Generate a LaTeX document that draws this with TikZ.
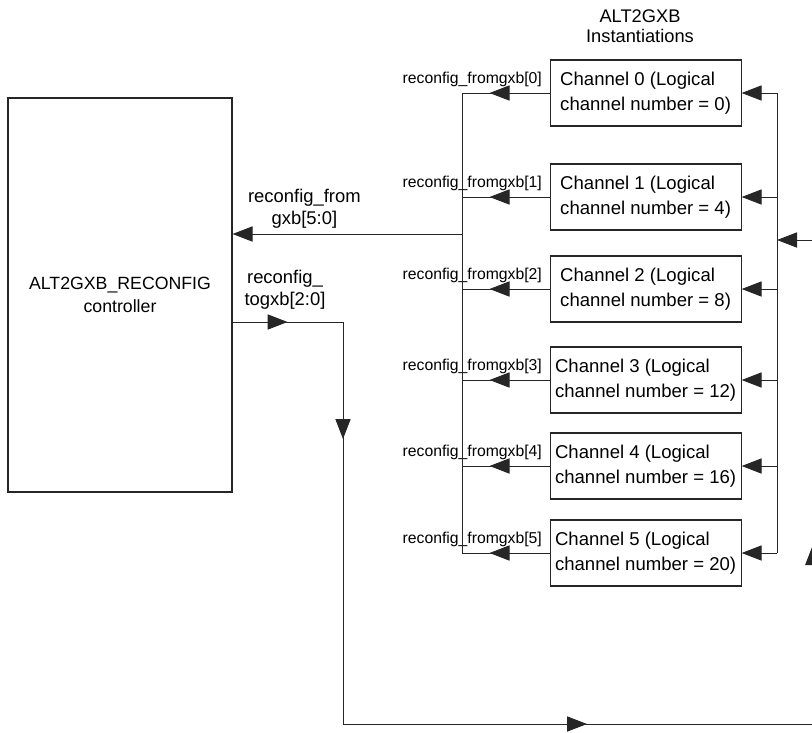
\documentclass[tikz,border=0pt]{standalone}
\usepackage{fontspec}
\setmainfont{Liberation Sans}
\usetikzlibrary{arrows.meta,positioning,calc,decorations.markings}

\begin{document}
\begin{tikzpicture}[>={Triangle[length=0.5cm,width=0.38cm]},line width=0.7pt,draw=black!85]
\tikzstyle{b}=[draw,line width=0.8pt,inner sep=2pt]
\tikzstyle{chbox}=[b,minimum width=4.775cm,minimum height=1.65cm,align=left,font=\fontsize{13.2}{17.6}\selectfont]
\tikzstyle{lbl}=[inner sep=0pt,font=\fontsize{11.2}{13}\selectfont]
\tikzstyle{midarr}=[postaction={decorate},decoration={markings,mark=at position #1 with {\arrow{>}}}]
\useasboundingbox (0,0) rectangle (20.3,-18.3);
\clip (0,0) rectangle (20.3,-18.3);
% controller and the six instantiations
\node[b,minimum width=5.6cm,minimum height=9.85cm,align=center,font=\fontsize{12.6}{16.4}\selectfont] (ctrl) at (3.0,-7.375) {ALT2GXB\_RECONFIG\\ controller};
\node[align=center,font=\fontsize{13}{14.4}\selectfont] (title) at (16.0,-0.65) {ALT2GXB\\ Instantiations};
\coordinate (lbus) at (11.55,0);
\coordinate (rbus) at (19.425,0);
\foreach \i/\y/\n in {0/-2.325/0,1/-4.925/4,2/-7.225/8,3/-9.5/12,4/-11.65/16,5/-13.825/20}{
  \node[chbox] (ch\i) at (16.14,\y) {Channel \i\ (Logical\\ channel number = \n)};
  \draw[midarr=1.5cm] (ch\i.west) -- (ch\i.west -| lbus);
  \node[lbl,anchor=base east] (rf\i) at ($(ch\i.west)+(-0.18,0.25)$) {reconfig\_fromgxb[\i]};
  \draw[->] (ch\i.east -| rbus) -- (ch\i.east);
}
\draw (ch0.west -| lbus) -- (ch5.west -| lbus);
\draw (ch0.east -| rbus) -- (ch5.east -| rbus);
% bus back to the controller
\coordinate (fb) at (11.55,-5.85);
\draw[->] (fb) -- (fb -| ctrl.east);
\node[align=center,font=\fontsize{13.1}{15.4}\selectfont] (fromlbl) at (7.61,-5.225) {reconfig\_from\\ gxb[5:0]};
\node[align=center,font=\fontsize{13.1}{15.4}\selectfont] (tolbl) at (7.125,-7.25) {reconfig\_\\ togxb[2:0]};
% loop out of the controller
\coordinate (t1) at (8.575,-8.05);
\coordinate (t2) at (8.575,-18.1);
\coordinate (t3) at (20.32,-18.1);
\coordinate (t4) at (20.32,-6.0);
\draw[midarr=1.375cm] (ctrl.east |- t1) -- (t1);
\draw[midarr=2.925cm] (t1) -- (t2);
\draw[midarr=6.1cm] (t2) -- (t3);
\draw[midarr=4.475cm] (t3) -- (t4);
\draw[->] (t4) -- (t4 -| rbus);
\end{tikzpicture}
\end{document}
